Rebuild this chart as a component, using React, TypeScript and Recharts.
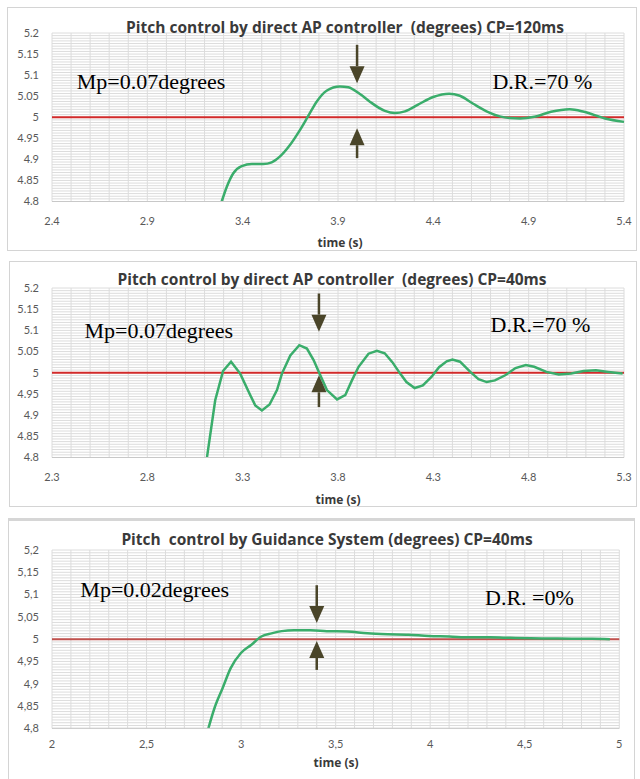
import React from 'react'
import {
  LineChart,
  Line,
  XAxis,
  YAxis,
  CartesianGrid,
  ReferenceLine,
  ReferenceDot,
} from 'recharts'

// ---- data ----

// top panel: direct AP controller, CP=120ms
const t1 = [3.29, 3.317, 3.351, 3.395, 3.448, 3.508, 3.552, 3.596, 3.648, 3.701, 3.744, 3.788, 3.84, 3.91, 3.954, 4.015, 4.067, 4.146, 4.198, 4.251, 4.32, 4.399, 4.483, 4.539, 4.609, 4.679, 4.748, 4.8, 4.855, 4.93, 5.017, 5.115, 5.19, 5.3, 5.4]
const pitch1 = [4.8, 4.835, 4.867, 4.884, 4.889, 4.889, 4.893, 4.907, 4.934, 4.97, 5.003, 5.037, 5.063, 5.073, 5.071, 5.055, 5.037, 5.015, 5.01, 5.014, 5.03, 5.048, 5.056, 5.051, 5.032, 5.014, 5.002, 4.998, 4.997, 5.001, 5.013, 5.019, 5.013, 4.997, 4.989]

// middle panel: direct AP controller, CP=40ms
const t2 = [3.113, 3.156, 3.197, 3.239, 3.287, 3.34, 3.366, 3.401, 3.441, 3.48, 3.506, 3.55, 3.597, 3.637, 3.672, 3.703, 3.742, 3.795, 3.838, 3.873, 3.908, 3.96, 4.004, 4.045, 4.085, 4.126, 4.159, 4.202, 4.245, 4.29, 4.33, 4.37, 4.4, 4.44, 4.494, 4.537, 4.58, 4.623, 4.677, 4.731, 4.785, 4.829, 4.893, 4.958, 5.023, 5.088, 5.153, 5.218, 5.293]
const pitch2 = [4.801, 4.935, 5.004, 5.026, 4.998, 4.947, 4.923, 4.911, 4.925, 4.959, 4.998, 5.041, 5.065, 5.057, 5.03, 4.998, 4.959, 4.937, 4.947, 4.982, 5.014, 5.045, 5.052, 5.046, 5.025, 4.998, 4.978, 4.964, 4.97, 4.99, 5.013, 5.027, 5.031, 5.026, 5.002, 4.985, 4.978, 4.982, 4.994, 5.011, 5.018, 5.014, 5.002, 4.996, 4.998, 5.004, 5.006, 5.002, 4.998]

// bottom panel: guidance system, CP=40ms
const t3 = [2.827, 2.859, 2.902, 2.945, 2.999, 3.053, 3.107, 3.161, 3.215, 3.28, 3.366, 3.453, 3.56, 3.668, 3.776, 3.884, 3.992, 4.1, 4.208, 4.316, 4.424, 4.532, 4.64, 4.748, 4.856, 4.95]
const pitch3 = [4.8, 4.845, 4.89, 4.935, 4.969, 4.987, 5.006, 5.013, 5.018, 5.02, 5.02, 5.018, 5.017, 5.013, 5.011, 5.01, 5.007, 5.006, 5.004, 5.004, 5.003, 5.002, 5.0015, 5.001, 5.001, 5.0]

const setpoint = 5
const yTicks = [4.8, 4.85, 4.9, 4.95, 5, 5.05, 5.1, 5.15, 5.2]
const xTicks1 = [2.4, 2.9, 3.4, 3.9, 4.4, 4.9, 5.4]
const xTicks2 = [2.3, 2.8, 3.3, 3.8, 4.3, 4.8, 5.3]
const xTicks3 = [2, 2.5, 3, 3.5, 4, 4.5, 5]

const GREEN = '#3aad6b'
const ARROW = '#4a4529'
const TICK_FONT = 'Lato, "Open Sans", sans-serif'
const TITLE_FONT = '"Open Sans", Lato, sans-serif'

// minor grid: every 0.1 s, every 0.00625 deg
const stepsX = (a: number, b: number) =>
  Array.from({ length: Math.round((b - a) / 0.1) + 1 }, (_, i) => +(a + i * 0.1).toFixed(3))
const gridY = Array.from({ length: 65 }, (_, i) => +(4.8 + i * 0.00625).toFixed(5))

const toRows = (t: number[], v: number[]) => t.map((x, i) => ({ t: x, pitch: v[i] }))

function Arrow(props: any) {
  const { x1, y1, x2, y2 } = props
  const dir = Math.sign(y2 - y1)
  const headLen = 17
  const headW = 7.5
  const baseY = y2 - dir * headLen
  return (
    <g>
      <line x1={x1} y1={y1} x2={x1} y2={baseY} stroke={ARROW} strokeWidth={2.5} />
      <polygon points={`${x2 - headW},${baseY} ${x2 + headW},${baseY} ${x2},${y2}`} fill={ARROW} />
    </g>
  )
}

const note = (text: string) => (props: any) => (
  <text x={props.cx} y={props.cy} fontFamily='"Liberation Serif", serif' fontSize={22} fill="#000">
    {text}
  </text>
)

type PanelProps = {
  top: number
  height: number
  frame: { top: number; bottom: number; left: number; right: number; thick?: boolean }
  margin: { top: number; right: number }
  xAxisHeight: number
  tickGap: number
  title: string
  titleY: number
  titleX: number
  axisY: number
  axisX: number
  rows: { t: number; pitch: number }[]
  domain: [number, number]
  xTicks: number[]
  comma?: boolean
  lineType: 'monotone' | 'linear'
  redColor: string
  arrowX: number
  down: [number, number]
  up: [number, number]
  mp: { x: number; y: number; text: string }
  dr: { x: number; y: number; text: string }
}

function Panel(p: PanelProps) {
  const fmt = (v: number) => (p.comma ? String(v).replace('.', ',') : String(v))
  const gridX = stepsX(p.domain[0], p.domain[1])
  return (
    <>
      <div
        style={{
          position: 'absolute',
          left: p.frame.left,
          top: p.frame.top,
          width: p.frame.right - p.frame.left,
          height: p.frame.bottom - p.frame.top,
          border: '1px solid #d4d4d4',
          borderTop: p.frame.thick ? '3px solid #d6d6d6' : '1px solid #d4d4d4',
          boxSizing: 'border-box',
        }}
      />
      <div style={{ position: 'absolute', left: 0, top: p.top }}>
        <LineChart
          width={640}
          height={p.height}
          data={p.rows}
          margin={{ top: p.margin.top, right: p.margin.right, left: 0, bottom: 0 }}
        >
          <CartesianGrid
            stroke="#dcdcdc"
            strokeWidth={1}
            horizontalCoordinatesGenerator={({ yAxis, offset }: any) =>
              gridY.map((v) =>
                yAxis && typeof yAxis.scale === 'function'
                  ? yAxis.scale(v)
                  : offset.top + ((5.2 - v) / 0.4) * offset.height
              )
            }
            verticalCoordinatesGenerator={({ xAxis, offset }: any) =>
              gridX.map((v) =>
                xAxis && typeof xAxis.scale === 'function'
                  ? xAxis.scale(v)
                  : offset.left + ((v - p.domain[0]) / (p.domain[1] - p.domain[0])) * offset.width
              )
            }
          />
          <XAxis
            dataKey="t"
            type="number"
            domain={p.domain}
            ticks={p.xTicks}
            tickFormatter={fmt}
            height={p.xAxisHeight}
            tickSize={0}
            tickMargin={p.tickGap}
            axisLine={{ stroke: '#c8c8c8' }}
            tick={{ fontSize: 11, fill: '#595959', fontFamily: TICK_FONT }}
            interval={0}
          />
          <YAxis
            type="number"
            domain={[4.8, 5.2]}
            ticks={yTicks}
            tickFormatter={fmt}
            width={52}
            tickSize={0}
            tickMargin={13}
            axisLine={false}
            tick={{ fontSize: 11, fill: '#595959', fontFamily: TICK_FONT }}
            interval={0}
            allowDataOverflow
          />
          <ReferenceLine y={setpoint} stroke={p.redColor} strokeWidth={2} />
          <Line
            type={p.lineType}
            dataKey="pitch"
            stroke={GREEN}
            strokeWidth={2.5}
            dot={false}
            isAnimationActive={false}
          />
          <ReferenceLine
            segment={[{ x: p.arrowX, y: p.down[0] }, { x: p.arrowX, y: p.down[1] }]}
            shape={Arrow}
          />
          <ReferenceLine
            segment={[{ x: p.arrowX, y: p.up[0] }, { x: p.arrowX, y: p.up[1] }]}
            shape={Arrow}
          />
          <ReferenceDot x={p.mp.x} y={p.mp.y} r={0} shape={note(p.mp.text)} />
          <ReferenceDot x={p.dr.x} y={p.dr.y} r={0} shape={note(p.dr.text)} />
        </LineChart>
      </div>
      <div
        style={{
          position: 'absolute',
          left: p.titleX - 300,
          width: 600,
          top: p.titleY - 11,
          lineHeight: '22px',
          textAlign: 'center',
          fontFamily: TITLE_FONT,
          fontWeight: 700,
          fontSize: 15.5,
          color: '#3a3a3a',
          whiteSpace: 'pre',
        }}
      >
        {p.title}
      </div>
      <div
        style={{
          position: 'absolute',
          left: p.axisX - 100,
          width: 200,
          top: p.axisY - 9,
          lineHeight: '18px',
          textAlign: 'center',
          fontFamily: TITLE_FONT,
          fontWeight: 700,
          fontSize: 12,
          color: '#3a3a3a',
        }}
      >
        time (s)
      </div>
    </>
  )
}

export default function App() {
  return (
    <div
      style={{
        position: 'absolute',
        left: 0,
        top: 0,
        width: 640,
        height: 779,
        background: '#fff',
        overflow: 'hidden',
      }}
    >
      <Panel
        top={0}
        height={250}
        frame={{ top: 7, bottom: 251, left: 7, right: 637 }}
        margin={{ top: 33, right: 16 }}
        xAxisHeight={48.5}
        tickGap={16}
        title="Pitch control by direct AP controller  (degrees) CP=120ms"
        titleY={27}
        titleX={345}
        axisY={243}
        axisX={340}
        rows={toRows(t1, pitch1)}
        domain={[2.4, 5.4]}
        xTicks={xTicks1}
        lineType="monotone"
        redColor="#d22a2a"
        arrowX={4.0}
        down={[5.172, 5.081]}
        up={[4.903, 4.974]}
        mp={{ x: 2.53, y: 5.067, text: 'Mp=0.07degrees' }}
        dr={{ x: 4.71, y: 5.067, text: 'D.R.=70 %' }}
      />
      <Panel
        top={255}
        height={250}
        frame={{ top: 261, bottom: 507, left: 9, right: 637 }}
        margin={{ top: 33, right: 16 }}
        xAxisHeight={47.5}
        tickGap={16}
        title="Pitch control by direct AP controller  (degrees) CP=40ms"
        titleY={279}
        titleX={332}
        axisY={500}
        axisX={338}
        rows={toRows(t2, pitch2)}
        domain={[2.3, 5.3]}
        xTicks={xTicks2}
        lineType="linear"
        redColor="#d22a2a"
        arrowX={3.7}
        down={[5.187, 5.097]}
        up={[4.919, 4.994]}
        mp={{ x: 2.47, y: 5.083, text: 'Mp=0.07degrees' }}
        dr={{ x: 4.6, y: 5.095, text: 'D.R.=70 %' }}
      />
      <Panel
        top={515}
        height={264}
        frame={{ top: 518, bottom: 790, left: 8, right: 635, thick: true }}
        margin={{ top: 35, right: 20.7 }}
        xAxisHeight={50.7}
        tickGap={12}
        title="Pitch  control by Guidance System (degrees) CP=40ms"
        titleY={539}
        titleX={327}
        axisY={763}
        axisX={336}
        rows={toRows(t3, pitch3)}
        domain={[2, 5]}
        xTicks={xTicks3}
        comma
        lineType="monotone"
        redColor="#c0504d"
        arrowX={3.4}
        down={[5.121, 5.036]}
        up={[4.931, 4.996]}
        mp={{ x: 2.15, y: 5.095, text: 'Mp=0.02degrees' }}
        dr={{ x: 4.29, y: 5.077, text: 'D.R. =0%' }}
      />
    </div>
  )
}
